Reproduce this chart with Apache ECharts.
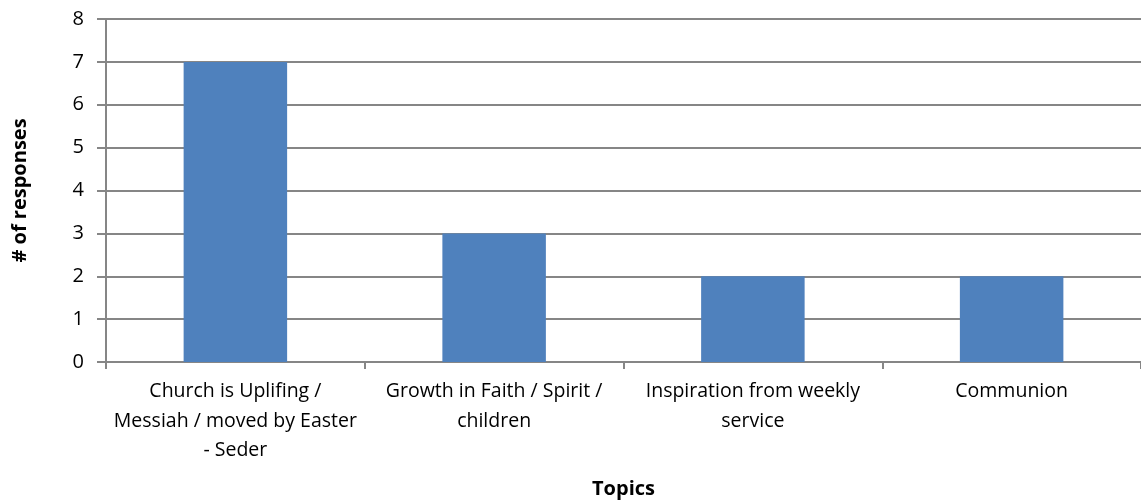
<!DOCTYPE html>
<html>
<head>
    <meta charset="utf-8">
    <title>ECharts</title>
    <script src="https://cdn.jsdelivr.net/npm/echarts@6/dist/echarts.min.js"></script>
</head>
<body style="margin:0">
    <div id="main" style="width: 1141px;height:502px;"></div>
    <script type="text/javascript">
        var topics = [
            'Church is Uplifing /\nMessiah / moved by Easter\n- Seder',
            'Growth in Faith / Spirit /\nchildren',
            'Inspiration from weekly\nservice',
            'Communion'
        ];
        var responses = [7, 3, 2, 2];

        var myChart = echarts.init(document.getElementById('main'));
        var fontName = 'Open Sans';
        var option = {
            animation: false,
            grid: {left: 106, right: 0, top: 19, bottom: 140, outerBoundsMode: 'none'},
            xAxis: {
                type: 'category',
                data: topics,
                name: 'Topics',
                nameLocation: 'middle',
                nameGap: 117,
                nameTextStyle: {fontFamily: fontName, fontWeight: 'bold', fontSize: 20, color: '#000'},
                axisLine: {lineStyle: {color: '#868686', width: 2}},
                axisTick: {show: true, alignWithLabel: false, length: 7, lineStyle: {color: '#868686', width: 2}},
                axisLabel: {
                    interval: 0, margin: 15, fontFamily: fontName, fontSize: 19.5,
                    color: '#000', lineHeight: 29.5
                }
            },
            yAxis: {
                type: 'value',
                min: 0, max: 8, interval: 1,
                name: '# of responses',
                nameLocation: 'middle',
                nameGap: 76,
                nameRotate: 90,
                nameTextStyle: {fontFamily: fontName, fontWeight: 'bold', fontSize: 20, color: '#000'},
                axisLine: {show: true, lineStyle: {color: '#868686', width: 2}},
                axisTick: {show: true, length: 9, lineStyle: {color: '#868686', width: 2}},
                axisLabel: {margin: 22, fontFamily: fontName, fontSize: 20, color: '#000'},
                splitLine: {lineStyle: {color: '#868686', width: 2}}
            },
            series: [{
                type: 'bar',
                data: responses,
                barWidth: '40%',
                itemStyle: {color: '#4F81BD'}
            }]
        };
        myChart.setOption(option);
    </script>
</body>
</html>
